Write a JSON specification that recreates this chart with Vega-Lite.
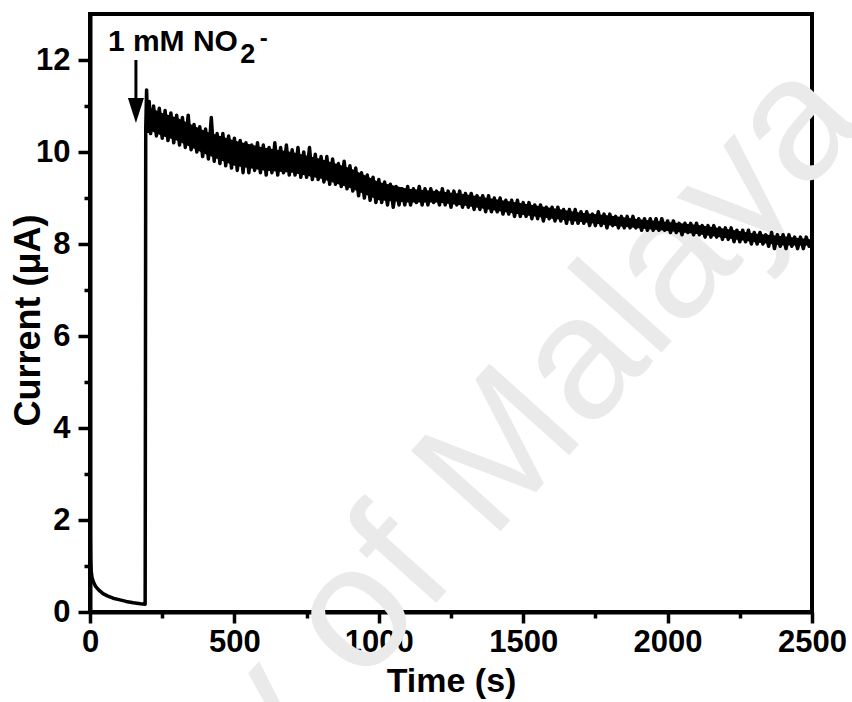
{
  "$schema": "https://vega.github.io/schema/vega-lite/v6.json",
  "width": 722,
  "height": 598,
  "autosize": {"type": "none"},
  "padding": {"left": 90, "top": 14, "right": 40, "bottom": 90},
  "background": "white",
  "config": {
    "view": {"stroke": "black", "strokeWidth": 4},
    "axis": {
      "grid": false,
      "domainColor": "black",
      "domainWidth": 4,
      "tickColor": "black",
      "tickWidth": 3.5,
      "labelFont": "Liberation Sans",
      "labelFontWeight": "bold",
      "labelFontSize": 31,
      "labelColor": "black",
      "titleFont": "Liberation Sans",
      "titleFontWeight": "bold",
      "titleColor": "black",
      "labelFlush": false,
      "labelOverlap": false,
      "labelBound": false
    }
  },
  "datasets": {
    "curve": [
      {"t":0,"i":2.7},{"t":1,"i":1.6},{"t":2,"i":1.15},{"t":4,"i":0.9},{"t":7,"i":0.75},{"t":12,"i":0.65},{"t":20,"i":0.55},{"t":30,"i":0.48},{"t":45,"i":0.4},{"t":60,"i":0.35},{"t":80,"i":0.3},{"t":100,"i":0.27},{"t":125,"i":0.23},{"t":150,"i":0.2},{"t":175,"i":0.18},{"t":191,"i":0.17},{"t":193,"i":10.5},{"t":196,"i":11.35},
      {"t":200,"i":10.45},{"t":205,"i":11.1},{"t":210,"i":10.4},{"t":220,"i":11.0},{"t":230,"i":10.35},{"t":240,"i":10.95},{"t":250,"i":10.3},{"t":260,"i":10.9},{"t":270,"i":10.25},{"t":280,"i":10.85},{"t":290,"i":10.2},{"t":300,"i":10.8},
      {"t":310,"i":10.15},{"t":320,"i":10.75},{"t":330,"i":10.1},{"t":340,"i":10.8},{"t":350,"i":10.05},{"t":360,"i":10.6},{"t":370,"i":10.0},{"t":380,"i":10.55},{"t":390,"i":9.9},{"t":400,"i":10.5},
      {"t":410,"i":9.85},{"t":420,"i":10.75},{"t":430,"i":9.8},{"t":440,"i":10.4},{"t":450,"i":9.75},{"t":460,"i":10.4},{"t":470,"i":9.7},{"t":480,"i":10.35},{"t":490,"i":9.65},{"t":500,"i":10.3},
      {"t":510,"i":9.6},{"t":520,"i":10.25},{"t":530,"i":9.55},{"t":540,"i":10.2},{"t":550,"i":9.55},{"t":560,"i":10.15},{"t":570,"i":9.6},{"t":580,"i":10.2},{"t":590,"i":9.55},{"t":600,"i":10.15},
      {"t":610,"i":9.5},{"t":620,"i":10.1},{"t":630,"i":9.55},{"t":640,"i":10.2},{"t":650,"i":9.5},{"t":660,"i":10.1},{"t":670,"i":9.55},{"t":680,"i":10.15},{"t":690,"i":9.5},{"t":700,"i":10.05},
      {"t":710,"i":9.5},{"t":720,"i":10.1},{"t":730,"i":9.45},{"t":740,"i":10.0},{"t":750,"i":9.45},{"t":760,"i":10.1},{"t":770,"i":9.4},{"t":780,"i":9.95},{"t":790,"i":9.4},{"t":800,"i":9.9},
      {"t":810,"i":9.35},{"t":820,"i":9.9},{"t":830,"i":9.3},{"t":840,"i":9.85},{"t":850,"i":9.3},{"t":860,"i":9.75},{"t":870,"i":9.25},{"t":880,"i":9.8},{"t":890,"i":9.2},{"t":900,"i":9.7},
      {"t":910,"i":9.15},{"t":920,"i":9.65},{"t":930,"i":9.05},{"t":940,"i":9.55},{"t":950,"i":9.0},{"t":960,"i":9.5},{"t":970,"i":8.95},{"t":980,"i":9.45},{"t":990,"i":8.9},{"t":1000,"i":9.4},
      {"t":1010,"i":8.9},{"t":1020,"i":9.35},{"t":1030,"i":8.85},{"t":1040,"i":9.3},{"t":1050,"i":8.8},{"t":1060,"i":9.25},{"t":1070,"i":8.85},{"t":1080,"i":9.2},{"t":1090,"i":8.85},{"t":1100,"i":9.25},
      {"t":1110,"i":8.85},{"t":1120,"i":9.2},{"t":1130,"i":8.9},{"t":1140,"i":9.25},{"t":1150,"i":8.85},{"t":1160,"i":9.2},{"t":1170,"i":8.85},{"t":1180,"i":9.2},{"t":1190,"i":8.9},{"t":1200,"i":9.15},
      {"t":1210,"i":8.85},{"t":1220,"i":9.2},{"t":1230,"i":8.85},{"t":1240,"i":9.15},{"t":1250,"i":8.8},{"t":1260,"i":9.15},{"t":1270,"i":8.85},{"t":1280,"i":9.15},{"t":1290,"i":8.8},{"t":1300,"i":9.1},
      {"t":1310,"i":8.8},{"t":1320,"i":9.1},{"t":1330,"i":8.75},{"t":1340,"i":9.05},{"t":1350,"i":8.75},{"t":1360,"i":9.05},{"t":1370,"i":8.7},{"t":1380,"i":9.05},{"t":1390,"i":8.7},{"t":1400,"i":9.0},
      {"t":1410,"i":8.7},{"t":1420,"i":9.0},{"t":1430,"i":8.65},{"t":1440,"i":8.95},{"t":1450,"i":8.65},{"t":1460,"i":8.95},{"t":1470,"i":8.6},{"t":1480,"i":8.95},{"t":1490,"i":8.6},{"t":1500,"i":8.9},
      {"t":1510,"i":8.6},{"t":1520,"i":8.9},{"t":1530,"i":8.55},{"t":1540,"i":8.85},{"t":1550,"i":8.55},{"t":1560,"i":8.85},{"t":1570,"i":8.5},{"t":1580,"i":8.8},{"t":1590,"i":8.55},{"t":1600,"i":8.8},
      {"t":1610,"i":8.5},{"t":1620,"i":8.8},{"t":1630,"i":8.5},{"t":1640,"i":8.75},{"t":1650,"i":8.45},{"t":1660,"i":8.75},{"t":1670,"i":8.45},{"t":1680,"i":8.75},{"t":1690,"i":8.45},{"t":1700,"i":8.7},
      {"t":1710,"i":8.45},{"t":1720,"i":8.7},{"t":1730,"i":8.4},{"t":1740,"i":8.65},{"t":1750,"i":8.4},{"t":1760,"i":8.7},{"t":1770,"i":8.4},{"t":1780,"i":8.65},{"t":1790,"i":8.35},{"t":1800,"i":8.65},
      {"t":1810,"i":8.4},{"t":1820,"i":8.6},{"t":1830,"i":8.35},{"t":1840,"i":8.6},{"t":1850,"i":8.35},{"t":1860,"i":8.6},{"t":1870,"i":8.35},{"t":1880,"i":8.6},{"t":1890,"i":8.35},{"t":1900,"i":8.55},
      {"t":1910,"i":8.3},{"t":1920,"i":8.55},{"t":1930,"i":8.3},{"t":1940,"i":8.55},{"t":1950,"i":8.3},{"t":1960,"i":8.55},{"t":1970,"i":8.3},{"t":1980,"i":8.55},{"t":1990,"i":8.3},{"t":2000,"i":8.5},
      {"t":2010,"i":8.25},{"t":2020,"i":8.5},{"t":2030,"i":8.25},{"t":2040,"i":8.45},{"t":2050,"i":8.2},{"t":2060,"i":8.45},{"t":2070,"i":8.25},{"t":2080,"i":8.45},{"t":2090,"i":8.2},{"t":2100,"i":8.45},
      {"t":2110,"i":8.2},{"t":2120,"i":8.4},{"t":2130,"i":8.15},{"t":2140,"i":8.4},{"t":2150,"i":8.15},{"t":2160,"i":8.4},{"t":2170,"i":8.15},{"t":2180,"i":8.35},{"t":2190,"i":8.1},{"t":2200,"i":8.35},
      {"t":2210,"i":8.1},{"t":2220,"i":8.35},{"t":2230,"i":8.05},{"t":2240,"i":8.3},{"t":2250,"i":8.05},{"t":2260,"i":8.3},{"t":2270,"i":8.05},{"t":2280,"i":8.3},{"t":2290,"i":8.0},{"t":2300,"i":8.25},
      {"t":2310,"i":8.0},{"t":2320,"i":8.25},{"t":2330,"i":8.0},{"t":2340,"i":8.2},{"t":2350,"i":7.95},{"t":2360,"i":8.25},{"t":2370,"i":7.9},{"t":2380,"i":8.2},{"t":2390,"i":7.95},{"t":2400,"i":8.2},
      {"t":2410,"i":7.9},{"t":2420,"i":8.2},{"t":2430,"i":7.95},{"t":2440,"i":8.15},{"t":2450,"i":7.9},{"t":2460,"i":8.15},{"t":2470,"i":7.9},{"t":2480,"i":8.15},{"t":2490,"i":7.95},{"t":2500,"i":8.1}
    ],
    "band": [
      {"t":196,"lo":10.5,"hi":11.0},{"t":250,"lo":10.35,"hi":10.85},{"t":300,"lo":10.25,"hi":10.75},{"t":400,"lo":9.95,"hi":10.45},{"t":500,"lo":9.7,"hi":10.25},
      {"t":600,"lo":9.6,"hi":10.1},{"t":700,"lo":9.55,"hi":10.0},{"t":800,"lo":9.42,"hi":9.85},{"t":900,"lo":9.22,"hi":9.65},{"t":1000,"lo":8.95,"hi":9.35},
      {"t":1100,"lo":8.9,"hi":9.2},{"t":1200,"lo":8.9,"hi":9.15},{"t":1300,"lo":8.83,"hi":9.08},{"t":1400,"lo":8.73,"hi":8.98},{"t":1500,"lo":8.63,"hi":8.88},
      {"t":1600,"lo":8.55,"hi":8.78},{"t":1700,"lo":8.48,"hi":8.68},{"t":1800,"lo":8.4,"hi":8.62},{"t":1900,"lo":8.34,"hi":8.54},{"t":2000,"lo":8.28,"hi":8.48},
      {"t":2100,"lo":8.22,"hi":8.42},{"t":2200,"lo":8.13,"hi":8.33},{"t":2300,"lo":8.04,"hi":8.23},{"t":2400,"lo":7.97,"hi":8.17},{"t":2500,"lo":7.97,"hi":8.1}
    ],
    "watermark": [{"t":870,"i":-2.09,"label":"University of Malaya"}],
    "arrow": [{"t":159,"i":12.0,"i2":11.1}],
    "arrowhead": [{"t":159,"i":10.9}],
    "note_main": [{"t":62,"i":12.2,"label":"1 mM NO"}],
    "note_sub": [{"t":520,"i":11.93,"label":"2"}],
    "note_sup": [{"t":588,"i":12.3,"label":"-"}]
  },
  "encoding": {
    "x": {
      "field": "t", "type": "quantitative",
      "scale": {"domain": [0, 2500], "nice": false, "zero": false},
      "axis": {
        "title": "Time (s)",
        "titleFontSize": 34,
        "titlePadding": 7,
        "values": [0,250,500,750,1000,1250,1500,1750,2000,2250,2500],
        "format": "d",
        "labelExpr": "datum.value % 500 === 0 ? datum.label : ''",
        "tickSize": {"condition": {"test": "datum.value % 500 === 0", "value": 11}, "value": 6},
        "labelPadding": 4
      }
    },
    "y": {
      "field": "i", "type": "quantitative",
      "scale": {"domain": [0, 13], "nice": false, "zero": false},
      "axis": {
        "title": "Current (μA)",
        "titleFontSize": 36,
        "titleX": -43,
        "titleY": 306,
        "values": [0,1,2,3,4,5,6,7,8,9,10,11,12],
        "format": "d",
        "labelExpr": "datum.value % 2 === 0 ? datum.label : ''",
        "tickSize": {"condition": {"test": "datum.value % 2 === 0", "value": 12}, "value": 6},
        "labelPadding": 8
      }
    }
  },
  "layer": [
    {
      "data": {"name": "watermark"},
      "mark": {"type": "text", "align": "center", "baseline": "alphabetic", "angle": 312, "fontSize": 175, "font": "Liberation Sans", "color": "#eaeaea"},
      "encoding": {"text": {"field": "label"}}
    },
    {
      "data": {"name": "band"},
      "mark": {"type": "area", "color": "black", "opacity": 1},
      "encoding": {"y": {"field": "hi", "type": "quantitative"}, "y2": {"field": "lo"}}
    },
    {
      "data": {"name": "curve"},
      "mark": {"type": "line", "color": "black", "strokeWidth": 3.5, "strokeJoin": "round", "clip": true}
    },
    {
      "data": {"name": "arrow"},
      "mark": {"type": "rule", "color": "black", "strokeWidth": 3},
      "encoding": {"y2": {"field": "i2"}}
    },
    {
      "data": {"name": "arrowhead"},
      "mark": {"type": "point", "shape": "M-0.64,-1L0.64,-1L0,1Z", "size": 625, "filled": true, "color": "black", "opacity": 1}
    },
    {
      "data": {"name": "note_main"},
      "mark": {"type": "text", "align": "left", "baseline": "alphabetic", "fontSize": 30, "fontWeight": "bold", "font": "Liberation Sans", "color": "black"},
      "encoding": {"text": {"field": "label"}}
    },
    {
      "data": {"name": "note_sub"},
      "mark": {"type": "text", "align": "left", "baseline": "alphabetic", "fontSize": 27, "fontWeight": "bold", "font": "Liberation Sans", "color": "black"},
      "encoding": {"text": {"field": "label"}}
    },
    {
      "data": {"name": "note_sup"},
      "mark": {"type": "text", "align": "left", "baseline": "alphabetic", "fontSize": 24, "fontWeight": "bold", "font": "Liberation Sans", "color": "black"},
      "encoding": {"text": {"field": "label"}}
    }
  ]
}
